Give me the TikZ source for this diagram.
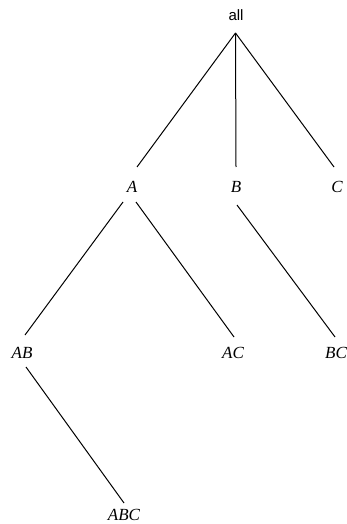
\documentclass[tikz,border=0pt]{standalone}
\usepackage{fontspec}
\setmainfont{Liberation Serif}
\newfontfamily\allfont{Liberation Sans}
\begin{document}
\begin{tikzpicture}[x=1pt,y=-1pt,
  lbl/.style={inner sep=0pt,anchor=center,font=\fontsize{17}{17}\selectfont\itshape},
  rootlbl/.style={inner sep=0pt,anchor=center,font=\fontsize{15}{15}\selectfont\allfont},
  edge/.style={draw=black,line width=1pt}]
\useasboundingbox (0,0) rectangle (347,524);
\node[rootlbl] (all) at (236,15) {all};
\node[lbl] (A) at (132,187) {A};
\node[lbl] (B) at (236,187) {B};
\node[lbl] (C) at (337,187) {C};
\node[lbl] (AB) at (22,353) {AB};
\node[lbl] (AC) at (233,353) {AC};
\node[lbl] (BC) at (336,353) {BC};
\node[lbl] (ABC) at (124,515) {ABC};
\draw[edge] ([shift={(-0.5,18)}]all.center) -- ([shift={(5,-20)}]A.center);
\draw[edge] ([shift={(-0.5,18)}]all.center) -- ([shift={(0,-20)}]B.center);
\draw[edge] ([shift={(-0.5,18)}]all.center) -- ([shift={(-3,-20)}]C.center);
\draw[edge] ([shift={(-9,15)}]A.center) -- ([shift={(3,-18)}]AB.center);
\draw[edge] ([shift={(4,15)}]A.center) -- ([shift={(1,-16)}]AC.center);
\draw[edge] ([shift={(1,18)}]B.center) -- ([shift={(-1,-16)}]BC.center);
\draw[edge] ([shift={(4,14)}]AB.center) -- ([shift={(0,-12)}]ABC.center);
\end{tikzpicture}
\end{document}
